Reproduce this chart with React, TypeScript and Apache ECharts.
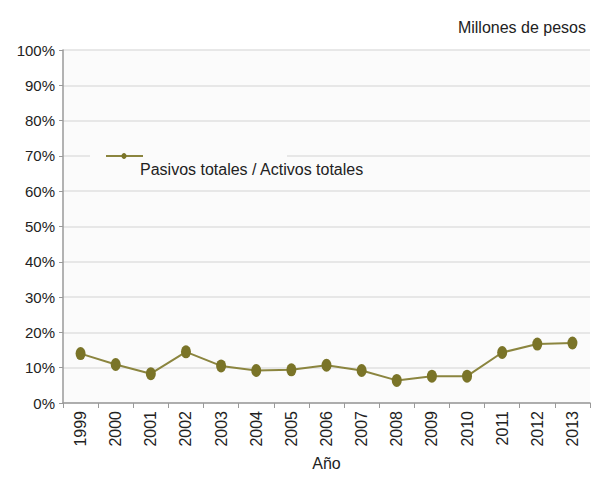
import React, { useEffect, useRef } from "react";
import * as echarts from "echarts";

const years = ["1999","2000","2001","2002","2003","2004","2005","2006","2007","2008","2009","2010","2011","2012","2013"];
const ratio = [14.0, 10.9, 8.3, 14.5, 10.5, 9.2, 9.4, 10.7, 9.2, 6.4, 7.6, 7.6, 14.3, 16.7, 17.0];
const seriesName = "Pasivos totales / Activos totales";
const unitLabel = "Millones de pesos";
const xTitle = "Año";

const FONT = "Liberation Sans, Arial, sans-serif";
const ELLIPSE = "path://M5,0A5,6.5,0,1,1,5,13A5,6.5,0,1,1,5,0Z";

export default function App() {
  const ref = useRef<HTMLDivElement>(null);
  useEffect(() => {
    const chart = echarts.init(ref.current!, null, { renderer: "svg" });
    chart.setOption({
      animation: false,
      backgroundColor: "#ffffff",
      textStyle: { fontFamily: FONT },
      grid: {
        left: 63, right: 9, top: 50, bottom: 88,
        show: true, backgroundColor: "#fbfbfb", borderWidth: 0,
      },
      title: {
        text: unitLabel, right: 8, top: 14,
        textStyle: { fontSize: 16, fontWeight: "normal", color: "#222", fontFamily: FONT },
      },
      xAxis: {
        type: "category",
        data: years,
        boundaryGap: true,
        name: xTitle,
        nameLocation: "middle",
        nameGap: 52,
        nameTextStyle: { fontSize: 16, color: "#222", fontFamily: FONT, verticalAlign: "top" },
        axisLine: { lineStyle: { color: "#9a9a9a", width: 1.5 } },
        axisTick: { show: true, alignWithLabel: false, length: 5, lineStyle: { color: "#9a9a9a" } },
        axisLabel: { rotate: 90, fontSize: 16, color: "#222", margin: 8, fontFamily: FONT },
      },
      yAxis: {
        type: "value",
        min: 0, max: 100, interval: 10,
        axisLine: { show: true, lineStyle: { color: "#9a9a9a", width: 1.5 } },
        axisTick: { show: true, length: 4, lineStyle: { color: "#9a9a9a" } },
        axisLabel: { formatter: "{value}%", fontSize: 15, color: "#222", margin: 8, fontFamily: FONT },
        splitLine: { lineStyle: { color: "#e0e0e0", width: 1.5 } },
      },
      series: [
        {
          name: seriesName,
          type: "line",
          data: ratio,
          symbol: ELLIPSE,
          symbolSize: [10, 13],
          lineStyle: { color: "#8b853f", width: 2 },
          itemStyle: { color: "#7a7428" },
        },
      ],
      graphic: [
        { type: "rect", left: 90, top: 140, shape: { width: 197, height: 36 }, style: { fill: "#fbfbfb" }, z: 10 },
        { type: "line", shape: { x1: 106, y1: 156, x2: 143, y2: 156 }, style: { stroke: "#8b853f", lineWidth: 2 }, z: 11 },
        { type: "ellipse", shape: { cx: 124, cy: 156, rx: 2.5, ry: 3 }, style: { fill: "#7a7428" }, z: 12 },
        {
          type: "text", left: 140, top: 161, z: 12,
          style: { text: seriesName, fontSize: 16, fill: "#222", fontFamily: FONT },
        },
      ],
    });
    return () => chart.dispose();
  }, []);
  return <div ref={ref} style={{ width: 599, height: 491, position: "absolute", left: 0, top: 0 }} />;
}
